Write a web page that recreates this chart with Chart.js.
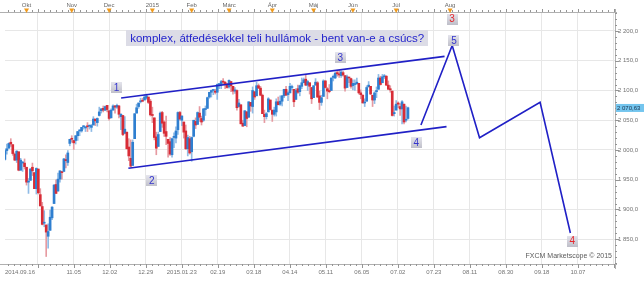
<!DOCTYPE html>
<html><head><meta charset="utf-8">
<script src="https://cdn.jsdelivr.net/npm/chart.js@4.4.0/dist/chart.umd.min.js"></script>
<style>html,body{margin:0;padding:0;background:#fff;overflow:hidden}#wrap{width:644px;height:281px}</style>
</head><body><div id="wrap"><canvas id="c" width="644" height="281"></canvas></div>
<script>
// ---- categories (trading days, index = bar position) ----
const dates = [
'09.16','09.17','09.18','09.19','09.22','09.23','09.24','09.25','09.26','09.29','09.30',
'10.01','10.02','10.03','10.06','10.07','10.08','10.09','10.10','10.13','10.14','10.15','10.16','10.17','10.20','10.21','10.22','10.23','10.24','10.27','10.28','10.29','10.30','10.31',
'11.03','11.04','11.05','11.06','11.07','11.10','11.11','11.12','11.13','11.14','11.17','11.18','11.19','11.20','11.21','11.24','11.25','11.26','11.28',
'12.01','12.02','12.03','12.04','12.05','12.08','12.09','12.10','12.11','12.12','12.15','12.16','12.17','12.18','12.19','12.22','12.23','12.24','12.26','12.29','12.30','12.31',
'01.02','01.05','01.06','01.07','01.08','01.09','01.12','01.13','01.14','01.15','01.16','01.20','01.21','01.22','01.23','01.26','01.27','01.28','01.29','01.30',
'02.02','02.03','02.04','02.05','02.06','02.09','02.10','02.11','02.12','02.13','02.17','02.18','02.19','02.20','02.23','02.24','02.25','02.26','02.27',
'03.02','03.03','03.04','03.05','03.06','03.09','03.10','03.11','03.12','03.13','03.16','03.17','03.18','03.19','03.20','03.23','03.24','03.25','03.26','03.27','03.30','03.31',
'04.01','04.02','04.06','04.07','04.08','04.09','04.10','04.13','04.14','04.15','04.16','04.17','04.20','04.21','04.22','04.23','04.24','04.27','04.28','04.29','04.30',
'05.01','05.04','05.05','05.06','05.07','05.08','05.11','05.12','05.13','05.14','05.15','05.18','05.19','05.20','05.21','05.22','05.26','05.27','05.28','05.29',
'06.01','06.02','06.03','06.04','06.05','06.08','06.09','06.10','06.11','06.12','06.15','06.16','06.17','06.18','06.19','06.22','06.23','06.24','06.25','06.26','06.29','06.30',
'07.01','07.02','07.06','07.07','07.08','07.09','07.10'];

// ---- series values ----
const open = [
1984,1999,2003,2013,2009,1993,1983,1997,1966,1978,1978,
1971,1946,1949,1971,1962,1935,1968,1925,1905,1877,1874,1855,1865,1886,1910,1942,1931,1951,1963,1964,1984,1979,2011,
2019,2016,2016,2024,2032,2032,2039,2037,2040,2040,2038,2042,2052,2046,2058,2066,2070,2067,2075,
2066,2054,2067,2074,2072,2074,2056,2058,2028,2030,2005,1986,1974,2019,2062,2073,2081,2083,2084,2087,2089,2082,
2059,2054,2022,2006,2031,2063,2047,2031,2018,2014,1992,2021,2020,2034,2063,2050,2047,2032,2002,2019,
1997,2023,2048,2043,2062,2053,2050,2068,2070,2089,2097,2100,2099,2097,2110,2110,2115,2114,2111,
2106,2115,2107,2099,2100,2073,2076,2045,2041,2064,2055,2080,2073,2098,2091,2108,2104,2092,2060,2056,2064,2084,
2067,2060,2064,2081,2077,2082,2091,2102,2093,2096,2105,2102,2085,2103,2098,2107,2113,2119,2109,2113,2105,
2088,2109,2113,2091,2080,2090,2116,2103,2100,2100,2122,2121,2130,2128,2125,2130,2125,2105,2122,2120,
2108,2110,2111,2112,2096,2092,2079,2082,2106,2107,2092,2084,2098,2102,2121,2113,2123,2124,2109,2103,2099,2061,
2067,2079,2073,2069,2077,2050,2053];
const high = [
2002,2010,2012,2019,2009,1995,1999,1997,1986,1981,1985,
1971,1952,1969,1978,1962,1970,1968,1935,1912,1898,1874,1876,1899,1905,1942,1950,1961,1965,1964,1986,1992,1999,2018,
2024,2016,2024,2031,2034,2038,2041,2040,2046,2042,2043,2056,2052,2054,2072,2070,2074,2074,2075,
2066,2069,2076,2075,2077,2075,2061,2058,2056,2030,2019,2017,2017,2061,2077,2079,2087,2087,2093,2094,2089,2085,
2072,2054,2030,2030,2064,2065,2049,2057,2018,2021,2020,2029,2039,2064,2065,2058,2047,2042,2025,2023,
2022,2050,2054,2064,2073,2057,2070,2074,2089,2097,2101,2101,2102,2111,2111,2117,2120,2115,2112,
2118,2115,2107,2105,2101,2085,2076,2050,2066,2065,2081,2080,2106,2098,2114,2111,2107,2094,2067,2063,2088,2084,
2067,2072,2086,2089,2091,2092,2102,2107,2098,2112,2109,2102,2103,2109,2109,2121,2121,2126,2117,2113,2105,
2108,2120,2115,2099,2092,2118,2117,2105,2110,2121,2126,2131,2134,2134,2133,2132,2125,2126,2122,2121,
2118,2118,2121,2112,2101,2093,2086,2108,2115,2107,2092,2098,2106,2127,2124,2127,2127,2125,2116,2108,2099,2074,
2083,2081,2078,2083,2077,2074,2072];
const low = [
1983,1993,2003,2006,1991,1982,1979,1965,1966,1964,1968,
1941,1927,1949,1957,1935,1926,1926,1906,1874,1871,1821,1835,1865,1883,1910,1927,1931,1946,1951,1964,1970,1974,2007,
2013,2001,2010,2016,2024,2030,2035,2031,2031,2035,2031,2042,2041,2040,2057,2062,2064,2066,2064,
2050,2054,2067,2062,2070,2054,2034,2024,2028,2002,1982,1972,1974,2019,2062,2070,2079,2081,2084,2085,2078,2057,
2046,2017,1992,2006,2031,2038,2023,2009,1988,1991,1988,2004,2012,2026,2050,2041,2020,2001,1990,1993,
1981,2022,2036,2043,2048,2042,2048,2058,2070,2087,2089,2093,2094,2085,2103,2103,2110,2103,2104,
2104,2098,2094,2095,2067,2072,2044,2040,2041,2039,2055,2065,2062,2085,2091,2103,2091,2061,2046,2052,2064,2067,
2048,2057,2057,2076,2075,2074,2088,2092,2083,2096,2101,2073,2085,2095,2091,2103,2113,2108,2100,2094,2078,
2088,2109,2088,2068,2075,2090,2104,2086,2096,2100,2116,2120,2124,2122,2122,2124,2099,2105,2113,2104,
2101,2100,2111,2094,2086,2079,2073,2082,2106,2093,2073,2078,2088,2102,2109,2113,2120,2108,2102,2097,2057,2057,
2067,2071,2058,2044,2044,2047,2052];
const close = [
1999,2002,2011,2010,1994,1983,1998,1966,1983,1978,1972,
1946,1946,1968,1965,1935,1969,1928,1906,1875,1878,1862,1863,1887,1904,1941,1927,1951,1965,1962,1985,1982,1995,2018,
2018,2012,2024,2031,2032,2038,2040,2038,2039,2040,2041,2052,2049,2053,2064,2069,2067,2073,2068,
2053,2067,2074,2072,2075,2060,2060,2026,2035,2002,1990,1973,2013,2061,2071,2079,2082,2082,2089,2091,2080,2059,
2058,2021,2003,2026,2062,2045,2028,2023,2011,1993,2019,2023,2032,2063,2052,2057,2030,2002,2021,1995,
2021,2050,2042,2063,2055,2047,2069,2069,2088,2097,2100,2100,2097,2110,2110,2115,2114,2111,2105,
2117,2108,2099,2101,2071,2079,2044,2040,2066,2053,2081,2074,2100,2089,2108,2104,2092,2061,2056,2061,2086,2068,
2060,2067,2081,2076,2082,2091,2102,2092,2096,2107,2105,2081,2100,2097,2108,2113,2118,2109,2115,2107,2086,
2108,2114,2089,2080,2088,2116,2105,2099,2098,2121,2123,2129,2128,2126,2131,2126,2104,2123,2121,2107,
2112,2110,2114,2096,2093,2079,2080,2105,2109,2094,2084,2096,2100,2121,2110,2123,2124,2109,2102,2101,2058,2063,
2077,2077,2069,2081,2047,2051,2071];
const lastPrice = 2070.63;

// ---- tick labels ----
const xTickLabels = ['2014.09.16','','11.05','12.02','12.29','2015.01.23','02.19','03.18','04.14','05.11','06.05','07.02','07.23','08.11','08.30','09.18','10.07',''];
const monthLabels = ['Okt','Nov','Dec','2015','Feb','Márc','Ápr','Máj','Jún','Júl','Aug'];
const monthIdx = [11,34,53,75,95,114,136,157,177,199,226.4];
const yTicks = [1850,1900,1950,2000,2050,2100,2150,2200];

// ---- drawn analysis (bar index, price) ----
const upperChannel = [[59.1,2087.4],[223.6,2157.3]];
const lowerChannel = [[62.8,1969.3],[224.6,2039.2]];
const waveProjection = [[211.6,2042.0],[227.5,2175.5],[241.4,2020.7],[272.2,2080.2],[287.6,1860.5]];
const waveLabelText = ['1','2','3','4','5','3','4'];
const waveLabelIdx = [56.8,74.7,170.6,209.2,228.4,227.4,288.6];
const waveLabelVal = [2105,1948,2154.6,2012.6,2184,2220,1847];
const waveLabelRed = [false,false,false,false,false,true,true];
const titleText = 'komplex, átfedésekkel teli hullámok - bent van-e a csúcs?';
const titleAnchor = [138.5, 2188];
const watermark = 'FXCM Marketscope © 2015';

// ---- axis ranges ----
const xMin = 0.05, xMax = 310.3;
const yMin = 1808.4, yMax = 2231.9;
const gridStart = -1.615, gridStep = 18.315;

const FONT = "'Liberation Sans', Arial, sans-serif";
const UP = '#2f7fd0', DN = '#d82c36', WUP = '#8fbbe6', WDN = '#e69aa1';
const LINE = '#2020c6', GRID = '#e7e7e7', AXC = '#737373';

function fmt(v, d){
  const s = v.toFixed(d).split('.');
  return s[0].replace(/\B(?=(\d{3})+(?!\d))/g,' ') + ',' + s[1];
}
const isUp = i => close[i] >= open[i];

const decor = {
  id:'decor',
  afterDraw(chart){
    const {ctx, chartArea:a, scales:{x, y}} = chart;
    ctx.save();
    const ln = (x1,y1,x2,y2)=>{ctx.beginPath();ctx.moveTo(x1,y1);ctx.lineTo(x2,y2);ctx.stroke();};
    ctx.lineWidth = 1;
    ctx.strokeStyle = '#b0b0b0';
    ln(0, a.top+0.5, a.right+2, a.top+0.5);
    ln(0, a.bottom+0.5, a.right+2, a.bottom+0.5);
    ln(a.right+0.5, a.top-3, a.right+0.5, a.bottom+5);
    // rulers
    ctx.strokeStyle = '#949494';
    for (let k=0;;k++){
      const v = gridStart + k*gridStep/6;
      if (v > xMax) break;
      if (v < xMin) continue;
      const px = Math.round(x.getPixelForValue(v))+0.5;
      const major = k%6===0;
      ln(px, a.top-(major?3:2), px, a.top);
      ln(px, a.bottom, px, a.bottom+(major?4:2));
    }
    for (let v=1810; v<=2230; v+=10){
      const py = Math.round(y.getPixelForValue(v))+0.5;
      ln(a.right, py, a.right+(v%50===0?4:2), py);
    }
    // month markers
    ctx.fillStyle = '#f09a1c';
    monthIdx.forEach(m=>{
      const px = x.getPixelForValue(m);
      ctx.beginPath(); ctx.moveTo(px-2.5,8.5); ctx.lineTo(px+2.5,8.5); ctx.lineTo(px,13); ctx.closePath(); ctx.fill();
    });
    // last price tag
    const py = y.getPixelForValue(lastPrice);
    ctx.fillStyle = '#74c5ee';
    ctx.fillRect(a.right+1, py-4, 28, 8);
    ctx.fillStyle = '#1b3550';
    ctx.font = '6px ' + FONT; ctx.textBaseline='middle'; ctx.textAlign='left';
    ctx.fillText(fmt(lastPrice,2), a.right+2, py+0.5);
    // title box
    ctx.font = '11px ' + FONT;
    const fs = 11 * 294 / ctx.measureText(titleText).width;
    ctx.font = fs.toFixed(2) + 'px ' + FONT;
    const tw = ctx.measureText(titleText).width;
    const tx = x.getPixelForValue(titleAnchor[0]), ty = y.getPixelForValue(titleAnchor[1]);
    ctx.fillStyle = '#dcdce6';
    ctx.fillRect(Math.round(tx - tw/2 - 4), Math.round(ty - 8), Math.round(tw + 8), 16);
    ctx.fillStyle = '#2424cc'; ctx.textAlign='center';
    ctx.fillText(titleText, tx, ty+0.5);
    // wave labels
    ctx.font = '10px ' + FONT;
    waveLabelText.forEach((t,i)=>{
      const cx = x.getPixelForValue(waveLabelIdx[i]), cy = y.getPixelForValue(waveLabelVal[i]);
      const g = ctx.createLinearGradient(0, cy-6, 0, cy+6);
      g.addColorStop(0,'#e6e6ee'); g.addColorStop(1,'#bebec8');
      ctx.fillStyle = g;
      ctx.fillRect(Math.round(cx-5.5), Math.round(cy-5.5), 11, 11);
      ctx.fillStyle = waveLabelRed[i] ? '#e6262c' : '#3434cc';
      ctx.fillText(t, cx, cy+0.5);
    });
    // watermark
    ctx.font = '7px ' + FONT; ctx.fillStyle = '#5a5a5a'; ctx.textAlign='right';
    ctx.fillText(watermark, a.right-3, 256);
    if ([open,high,low,close].some(s=>s.length!==dates.length)){
      ctx.fillStyle='red'; ctx.font='20px sans-serif'; ctx.textAlign='left';
      ctx.fillText('LEN '+[dates,open,high,low,close].map(s=>s.length).join(','), 20, 150);
    }
    ctx.restore();
  }
};

const pts = arr => arr.map(p=>({x:p[0], y:p[1]}));
const lineDs = arr => ({type:'line', data:pts(arr), borderColor:LINE, borderWidth:1.6, pointRadius:0, tension:0, fill:false, order:0});

new Chart(document.getElementById('c'), {
  type:'bar',
  data:{ datasets:[
    lineDs(upperChannel), lineDs(lowerChannel), lineDs(waveProjection),
    {type:'bar', data: dates.map((d,i)=>({x:i, y:[low[i], high[i]]})),
      backgroundColor: dates.map((d,i)=>isUp(i)?WUP:WDN), barThickness:1, grouped:false, order:2, borderWidth:0},
    {type:'bar', data: dates.map((d,i)=>({x:i, y:[open[i], close[i]]})),
      backgroundColor: dates.map((d,i)=>isUp(i)?UP:DN), barThickness:2, minBarLength:1, grouped:false, order:1, borderWidth:0}
  ]},
  options:{
    responsive:false, animation:false, devicePixelRatio:1,
    layout:{padding:0},
    plugins:{legend:{display:false}, tooltip:{enabled:false}},
    scales:{
      x:{type:'linear', position:'bottom', min:xMin, max:xMax, offset:false,
        afterBuildTicks: s => { s.ticks = xTickLabels.map((l,i)=>({value: Math.max(xMin, gridStart + i*gridStep)})); },
        afterFit: s => { s.height = 17; },
        ticks:{autoSkip:false, maxRotation:0, align:'inner', padding:5, color:AXC, font:{size:6, family:FONT},
          callback:(v,i)=>xTickLabels[i]},
        grid:{offset:false, drawTicks:false, color: c => c.index===0 ? 'rgba(0,0,0,0)' : GRID},
        border:{display:false}},
      xt:{type:'linear', axis:'x', position:'top', min:xMin, max:xMax, offset:false,
        afterBuildTicks: s => { s.ticks = monthIdx.map(v=>({value:v})); },
        afterFit: s => { s.height = 12; },
        ticks:{autoSkip:false, maxRotation:0, padding:3, color:'#666', font:{size:6, family:FONT},
          callback:(v,i)=>monthLabels[i]},
        grid:{display:false, drawTicks:false}, border:{display:false}},
      y:{type:'linear', position:'right', min:yMin, max:yMax,
        afterBuildTicks: s => { s.ticks = yTicks.map(v=>({value:v})); },
        afterFit: s => { s.width = 29; },
        ticks:{padding:3, color:AXC, font:{size:6, family:FONT}, callback: v => fmt(v,1)},
        grid:{drawTicks:false, color:GRID}, border:{display:false}}
    }
  },
  plugins:[decor]
});
</script>
</body></html>
